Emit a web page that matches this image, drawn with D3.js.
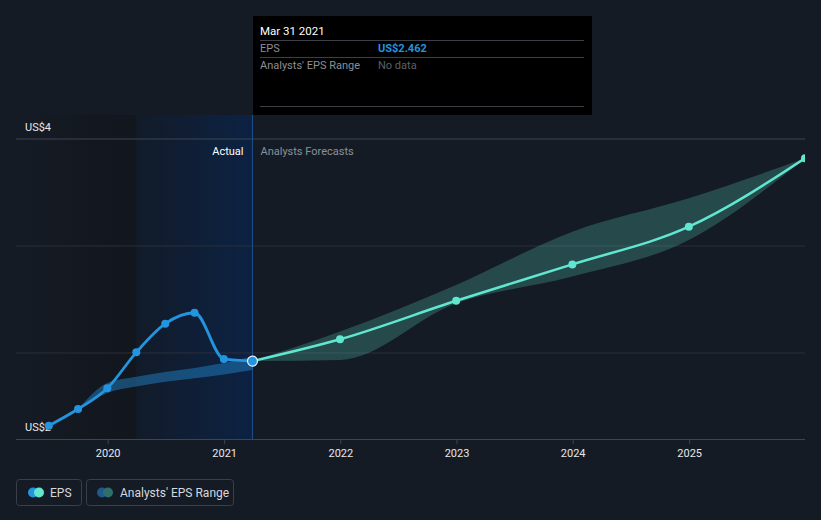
<!DOCTYPE html>
<html><head><meta charset="utf-8">
<script src="https://cdn.jsdelivr.net/npm/d3@7/dist/d3.min.js"></script>
<style>
html,body{margin:0;padding:0;background:#151b25;}
svg{display:block;font-family:Roboto,"Open Sans",sans-serif;}
</style></head>
<body><svg id="c" width="821" height="520"></svg>
<script>
// ---- data ----
const actualDates = ["2019-06-30","2019-09-30","2019-12-31","2020-03-31","2020-06-30","2020-09-30","2020-12-31","2021-03-31"];
const actualEPS = [2.160, 2.238, 2.335, 2.503, 2.637, 2.688, 2.472, 2.462];
const pastRangeDates = ["2019-09-30","2019-12-31","2020-03-31","2020-06-30","2020-09-30","2020-12-31","2021-03-31"];
const pastRangeLow = [2.238, 2.313, 2.343, 2.366, 2.382, 2.400, 2.421];
const pastRangeHigh = [2.238, 2.360, 2.389, 2.411, 2.430, 2.453, 2.483];
const forecastDates = ["2021-03-31","2021-12-31","2022-12-31","2023-12-31","2024-12-31","2025-12-31"];
const forecastEPS = [2.462, 2.564, 2.744, 2.914, 3.090, 3.410];
const forecastLow = [2.462, 2.467, 2.732, 2.857, 3.028, 3.410];
const forecastHigh = [2.462, 2.600, 2.818, 3.067, 3.223, 3.410];
const yTickValues = [2.098, 3.5];
const xTickYears = [2020, 2021, 2022, 2023, 2024, 2025];
const gridValues = [3.5, 3.0, 2.5];

(function(){
const parse = d3.timeParse("%Y-%m-%d");
const svg = d3.select("#c");
const W = 821, H = 520;
const pL = 16, pR = 805, pT = 139, pB = 439;

const x = d3.scaleTime().domain([new Date(2019,2,19), new Date(2025,11,31)]).range([pL, pR]);
const y = d3.scaleLinear().domain([2.098, 3.5]).range([pB, pT]);

const defs = svg.append("defs");
const g1 = defs.append("linearGradient").attr("id","gDark").attr("x1","0").attr("x2","1").attr("y1","0").attr("y2","0");
g1.append("stop").attr("offset","0").attr("stop-color","#151b25");
g1.append("stop").attr("offset","1").attr("stop-color","#12161d");
const g2 = defs.append("linearGradient").attr("id","gBlue").attr("x1","0").attr("x2","1").attr("y1","0").attr("y2","0");
g2.append("stop").attr("offset","0").attr("stop-color","#121b29");
g2.append("stop").attr("offset","1").attr("stop-color","#0c2243");
defs.append("clipPath").attr("id","clip").append("rect").attr("x",pL).attr("y",0).attr("width",pR-pL).attr("height",pB);

const nowX = x(parse("2021-03-31"));
const blueStart = x(parse("2020-03-31"));

svg.append("rect").attr("width",W).attr("height",H).attr("fill","#151b25");
svg.append("rect").attr("x",pL).attr("y",115).attr("width",blueStart-pL).attr("height",pB-115).attr("fill","url(#gDark)");
svg.append("rect").attr("x",blueStart).attr("y",115).attr("width",nowX-blueStart).attr("height",pB-115).attr("fill","url(#gBlue)");

// grid
svg.selectAll("line.grid").data(gridValues).enter().append("line")
  .attr("x1",pL).attr("x2",pR).attr("y1",d=>y(d)).attr("y2",d=>y(d))
  .attr("stroke", (d,i)=> i===0 ? "#3e4451" : "#2a303b").attr("stroke-width",1);

// x axis
const xAxis = d3.axisBottom(x).tickValues(xTickYears.map(yr=>new Date(yr,0,1))).tickFormat(d3.timeFormat("%Y")).tickSize(5).tickPadding(5);
const ax = svg.append("g").attr("transform",`translate(0,${pB})`).call(xAxis);
ax.select(".domain").attr("stroke","#3e4451").attr("d",`M${pL},0.5H${pR}`);
ax.selectAll(".tick line").attr("stroke","#3e4451");
ax.selectAll(".tick text").attr("fill","#e6e8eb").attr("font-size","11px").attr("font-family","Roboto, sans-serif");

// y labels
svg.selectAll("text.ylab").data(yTickValues).enter().append("text")
  .attr("x",25).attr("y",d=> y(d) - 8)
  .attr("fill","#e6e8eb").attr("font-size","11px").text(d=>"US$"+d3.format(".0f")(d));

// vertical now line
svg.append("line").attr("x1",nowX).attr("x2",nowX).attr("y1",115).attr("y2",pB).attr("stroke","#1d4f8c").attr("stroke-width",1);

svg.append("text").attr("x",nowX-9).attr("y",155).attr("text-anchor","end").attr("fill","#ffffff").attr("font-size","11px").text("Actual");
svg.append("text").attr("x",nowX+8).attr("y",155).attr("fill","#8b9099").attr("font-size","11px").text("Analysts Forecasts");

const plot = svg.append("g").attr("clip-path","url(#clip)");

// past range band
const pastBand = pastRangeDates.map((d,i)=>({d:parse(d),lo:pastRangeLow[i],hi:pastRangeHigh[i]}));
plot.append("path").datum(pastBand)
  .attr("d", d3.area().curve(d3.curveMonotoneX).x(p=>x(p.d)).y0(p=>y(p.lo)).y1(p=>y(p.hi)))
  .attr("fill","#2394df").attr("fill-opacity",0.42);

// forecast band
const fBand = forecastDates.map((d,i)=>({d:parse(d),lo:forecastLow[i],hi:forecastHigh[i]}));
plot.append("path").datum(fBand)
  .attr("d", d3.area().curve(d3.curveMonotoneX).x(p=>x(p.d)).y0(p=>y(p.lo)).y1(p=>y(p.hi)))
  .attr("fill","#61e6d0").attr("fill-opacity",0.23);

// forecast line
const fData = forecastDates.map((d,i)=>({d:parse(d),v:forecastEPS[i]}));
plot.append("path").datum(fData)
  .attr("d", d3.line().curve(d3.curveMonotoneX).x(p=>x(p.d)).y(p=>y(p.v)))
  .attr("fill","none").attr("stroke","#61e6d0").attr("stroke-width",2.5);
plot.selectAll("circle.f").data(fData.slice(1)).enter().append("circle")
  .attr("cx",p=>x(p.d)).attr("cy",p=>y(p.v)).attr("r",4).attr("fill","#61e6d0");

// actual line
const aData = actualDates.map((d,i)=>({d:parse(d),v:actualEPS[i]}));
plot.append("path").datum(aData)
  .attr("d", d3.line().curve(d3.curveMonotoneX).x(p=>x(p.d)).y(p=>y(p.v)))
  .attr("fill","none").attr("stroke","#2394df").attr("stroke-width",2.8);
plot.selectAll("circle.a").data(aData.slice(0,-1)).enter().append("circle")
  .attr("cx",p=>x(p.d)).attr("cy",p=>y(p.v)).attr("r",4).attr("fill","#2394df");
const last = aData[aData.length-1];
plot.append("circle").attr("cx",x(last.d)).attr("cy",y(last.v)).attr("r",5)
  .attr("fill","#2394df").attr("stroke","#e8f2fb").attr("stroke-width",1.2);

// tooltip
const tt = svg.append("g");
tt.append("rect").attr("x",253).attr("y",16).attr("width",339).attr("height",99).attr("fill","#000000");
tt.append("text").attr("x",260).attr("y",35).attr("fill","#ffffff").attr("font-size","11.5px").text("Mar 31 2021");
[40,57,106].forEach(yy=> tt.append("line").attr("x1",260).attr("x2",584).attr("y1",yy+0.5).attr("y2",yy+0.5).attr("stroke","#3c3f45"));
tt.append("text").attr("x",260).attr("y",52).attr("fill","#8b8f96").attr("font-size","11px").text("EPS");
tt.append("text").attr("x",378).attr("y",52).attr("fill","#2394df").attr("font-size","11px").attr("font-weight","bold").text("US$" + d3.format(".3f")(last.v));
tt.append("text").attr("x",260).attr("y",69).attr("fill","#8b8f96").attr("font-size","11px").text("Analysts' EPS Range");
tt.append("text").attr("x",378).attr("y",69).attr("fill","#5c6067").attr("font-size","11px").text("No data");

// legend
const lg = svg.append("g");
lg.append("rect").attr("x",16.5).attr("y",479.5).attr("width",65).attr("height",26).attr("rx",3).attr("fill","none").attr("stroke","#3a3f48");
lg.append("circle").attr("cx",33).attr("cy",492.5).attr("r",5).attr("fill","#2394df");
lg.append("circle").attr("cx",39).attr("cy",492.5).attr("r",5).attr("fill","#61e6d0");
lg.append("text").attr("x",50).attr("y",497).attr("fill","#d5d8dc").attr("font-size","12px").text("EPS");
lg.append("rect").attr("x",86.5).attr("y",479.5).attr("width",147).attr("height",26).attr("rx",3).attr("fill","none").attr("stroke","#3a3f48");
lg.append("circle").attr("cx",102).attr("cy",492.5).attr("r",5).attr("fill","#1e5a8c");
lg.append("circle").attr("cx",108).attr("cy",492.5).attr("r",5).attr("fill","#2f6f6a");
lg.append("text").attr("x",120).attr("y",497).attr("fill","#d5d8dc").attr("font-size","12px").text("Analysts' EPS Range");
})();
</script></body></html>
